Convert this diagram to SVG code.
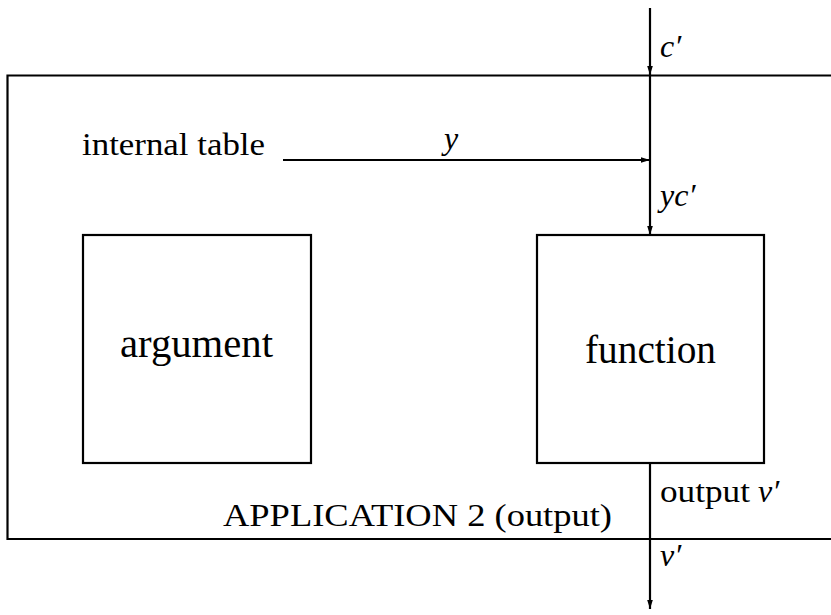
<svg xmlns="http://www.w3.org/2000/svg" width="831" height="615" viewBox="0 0 831 615">
<style>
.ln{stroke:#000;stroke-width:2.2;fill:none}
.bx{stroke:#000;stroke-width:2.2;fill:#fff}
text{font-family:'Liberation Serif','Times New Roman',serif;fill:#000}
.i{font-style:italic}
</style>
<defs>
<marker id="ah" markerWidth="10" markerHeight="8" refX="9" refY="4" orient="auto" markerUnits="userSpaceOnUse">
<path d="M0,1.2 L9,4 L0,6.8 Z" fill="#000"/>
</marker>
</defs>
<rect width="831" height="615" fill="#fff"/>
<g id="frame">
<path class="ln" d="M840,75.5 H7.5 V539 H840"/>
<text x="223" y="526" font-size="31" textLength="389" lengthAdjust="spacingAndGlyphs">APPLICATION 2 (output)</text>
</g>
<g id="argument">
<rect class="bx" x="83" y="235" width="228" height="228"/>
<text x="120" y="357" font-size="39" textLength="153" lengthAdjust="spacingAndGlyphs">argument</text>
</g>
<g id="function">
<rect class="bx" x="537" y="235" width="227" height="228"/>
<text x="585" y="363" font-size="39" textLength="131" lengthAdjust="spacingAndGlyphs">function</text>
</g>
<g id="connectors">
<line class="ln" x1="650" y1="8" x2="650" y2="75" marker-end="url(#ah)"/>
<line class="ln" x1="650" y1="75" x2="650" y2="235" marker-end="url(#ah)"/>
<line class="ln" x1="283" y1="160" x2="650" y2="160" marker-end="url(#ah)"/>
<line class="ln" x1="650" y1="463" x2="650" y2="609" marker-end="url(#ah)"/>
</g>
<g id="labels">
<text x="82" y="155" font-size="32" textLength="183" lengthAdjust="spacingAndGlyphs">internal table</text>
<text class="i" x="444" y="149" font-size="32">y</text>
<text class="i" x="660" y="57" font-size="32">c′</text>
<text class="i" x="660" y="206" font-size="32">yc′</text>
<text x="660" y="502" font-size="32"><tspan textLength="90" lengthAdjust="spacingAndGlyphs">output</tspan> <tspan class="i">v′</tspan></text>
<text class="i" x="660" y="566" font-size="32">v′</text>
</g>
</svg>
